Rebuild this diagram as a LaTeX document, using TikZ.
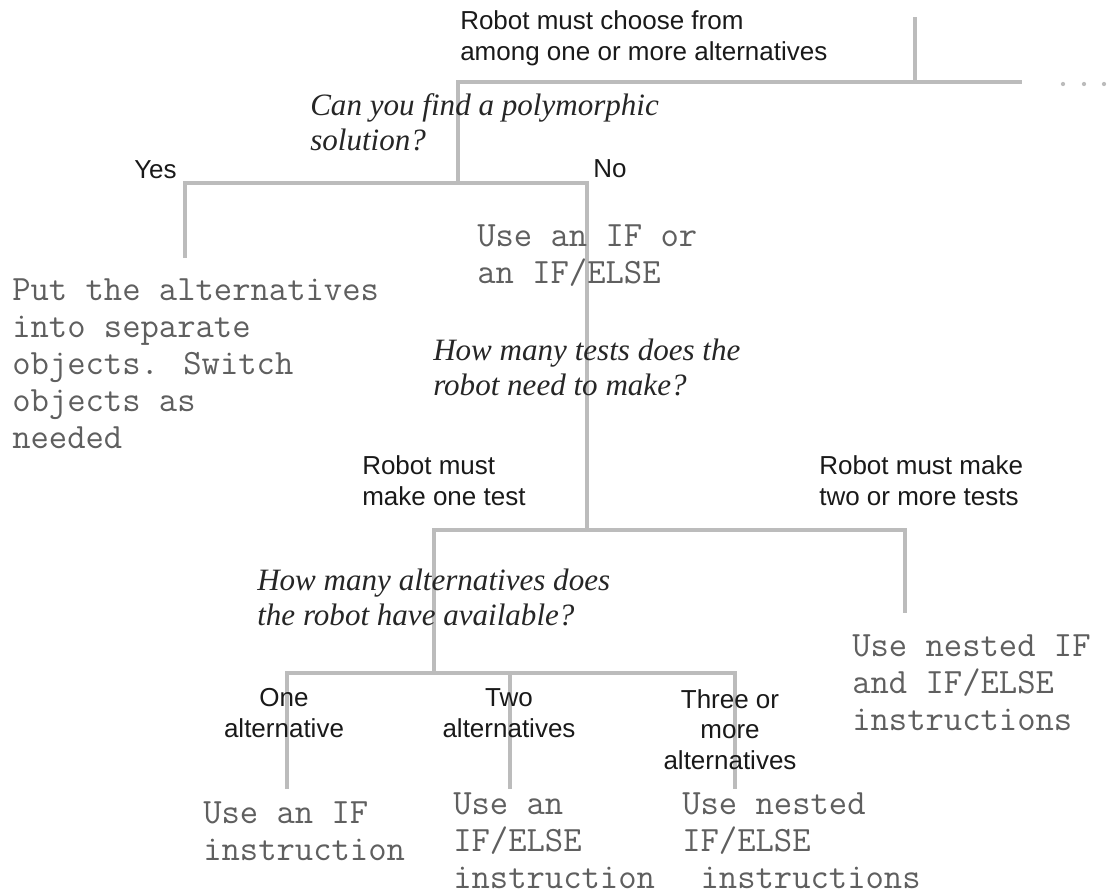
\documentclass[tikz,border=0pt]{standalone}
\usepackage{fontspec}
\setmainfont{Liberation Serif}
\setsansfont{Liberation Sans}
\usepackage{tikz}

\definecolor{branchgray}{RGB}{188,188,188}
\definecolor{codegray}{RGB}{95,95,95}

\tikzset{
  branch/.style={draw=branchgray, line width=3.3pt},
  sans/.style={inner sep=0pt, align=left, text=black!90, font=\sffamily\fontsize{19.5}{22.7}\selectfont},
  ask/.style={inner sep=0pt, align=left, text=black!85, font=\itshape\fontsize{23.3}{26.25}\selectfont},
  code/.style={inner sep=0pt, align=left, text=codegray, font=\ttfamily\fontsize{26.7}{27.75}\selectfont},
}

\begin{document}
\begin{tikzpicture}[x=0.75pt,y=0.75pt,yscale=-1,xscale=1]
    \useasboundingbox (0,0) rectangle (1107,894);

    % Branch points
    \coordinate (root) at (915,17);
    \coordinate (rootj) at (915,82);
    \coordinate (polyj) at (458,82);
    \coordinate (more) at (1022,82);
    \coordinate (polyb) at (458,183);
    \coordinate (yesj) at (185,183);
    \coordinate (yesb) at (185,258);
    \coordinate (noj) at (587,183);
    \coordinate (testsb) at (587,530);
    \coordinate (onej) at (434,530);
    \coordinate (twoj) at (905,530);
    \coordinate (twob) at (905,613);
    \coordinate (altsb) at (434,673);
    \coordinate (alt1j) at (287,673);
    \coordinate (alt2j) at (510,673);
    \coordinate (alt3j) at (735,673);
    \coordinate (alt1b) at (287,789);
    \coordinate (alt2b) at (510,789);
    \coordinate (alt3b) at (735,789);

    %Straight Lines
    \draw [branch] (root) -- (rootj);
    \draw [branch] (polyb) -- (polyj) -- (more);
    \draw [branch] (yesb) -- (yesj) -- (noj) -- (testsb);
    \draw [branch] (altsb) -- (onej) -- (twoj) -- (twob);
    \draw [branch] (alt1b) -- (alt1j) -- (alt3j) -- (alt3b);
    \draw [branch] (alt2j) -- (alt2b);
    % dots
    \fill [branchgray] (1063,84) circle (1.6pt) (1084,84) circle (1.6pt) (1104,84) circle (1.6pt);

    % Text Node (anchored at the baseline of the last line)
    \node (choose) [anchor=base west, sans] at (460,60) {Robot must choose from\\among one or more alternatives};
    % Text Node
    \node (poly) [anchor=base west, ask] at (310,150) {Can you find a polymorphic\\solution?};
    % Text Node
    \node (yes) [anchor=base west, sans] at (134,178) {Yes};
    % Text Node
    \node (no) [anchor=base west, sans] at (593,177) {No};
    % Text Node
    \node (useif) [anchor=base west, code] at (477,283) {Use an IF or\\an IF/ELSE};
    % Text Node
    \node (separate) [anchor=base west, code] at (12,448) {Put the alternatives\\into separate\\objects. Switch\\objects as\\needed};
    % Text Node
    \node (tests) [anchor=base west, ask] at (433,395) {How many tests does the\\robot need to make?};
    % Text Node
    \node (onetest) [anchor=base west, sans] at (362,505) {Robot must\\make one test};
    % Text Node
    \node (twotests) [anchor=base west, sans] at (819,505) {Robot must make\\two or more tests};
    % Text Node
    \node (alts) [anchor=base west, ask] at (257,625) {How many alternatives does\\the robot have available?};
    % Text Node
    \node (nestif) [anchor=base west, code] at (852,730) {Use nested IF\\and IF/ELSE\\instructions};
    % Text Node
    \node (one) [anchor=base, sans, align=center] at (284,737) {One\\alternative};
    % Text Node
    \node (two) [anchor=base, sans, align=center] at (509,737) {Two\\alternatives};
    % Text Node
    \node (three) [anchor=base, sans, align=center] at (730,769) {Three or\\more\\alternatives};
    % Text Node
    \node (useone) [anchor=base west, code] at (203,860) {Use an IF\\instruction};
    % Text Node
    \node (useelse) [anchor=base west, code] at (453,888) {Use an\\IF/ELSE\\instruction};
    % Text Node
    \node (usenest) [anchor=base west, code] at (682,888) {Use nested\\IF/ELSE\\~instructions};

\end{tikzpicture}
\end{document}
